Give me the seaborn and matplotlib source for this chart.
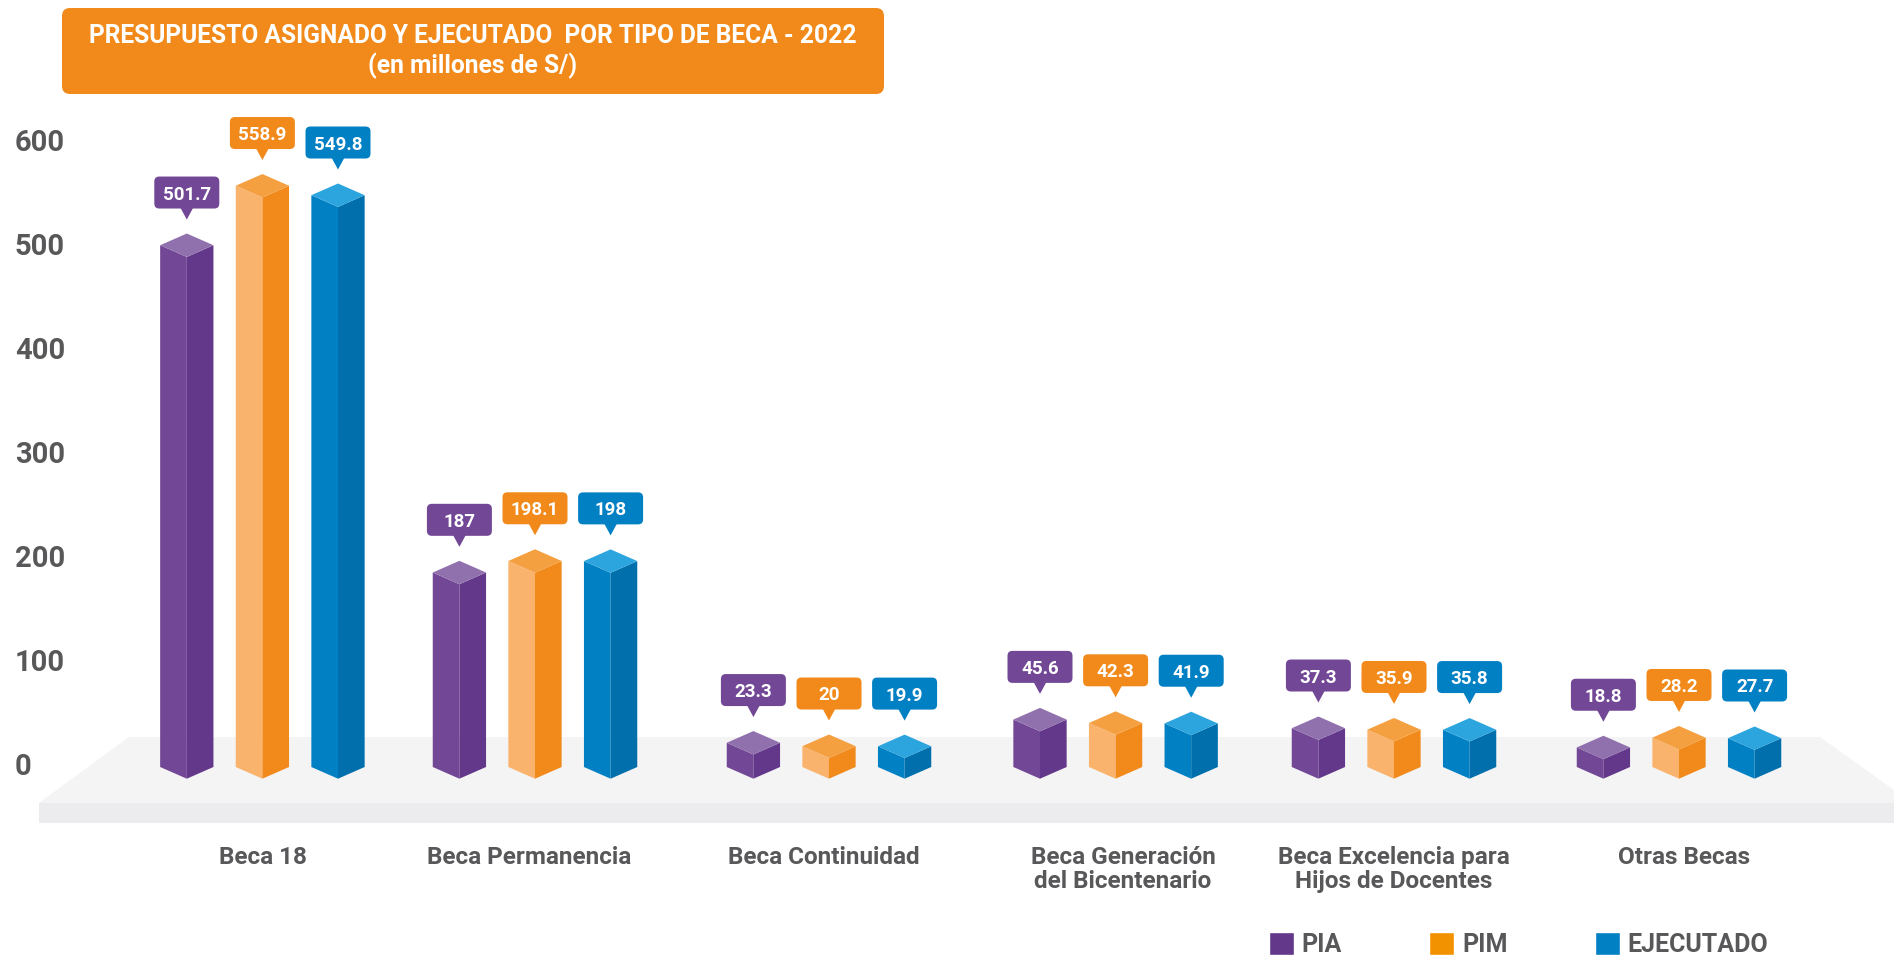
import numpy as np
import pandas as pd
import matplotlib
matplotlib.use('Agg')
import matplotlib.pyplot as plt
from matplotlib.patches import Polygon, FancyBboxPatch
from matplotlib.transforms import IdentityTransform, ScaledTranslation
import seaborn as sns

# data
becas = ['Beca 18', 'Beca Permanencia', 'Beca Continuidad',
         'Beca Generación\ndel Bicentenario', 'Beca Excelencia para\nHijos de Docentes', 'Otras Becas']
pia = [501.7, 187, 23.3, 45.6, 37.3, 18.8]
pim = [558.9, 198.1, 20, 42.3, 35.9, 28.2]
ejecutado = [549.8, 198, 19.9, 41.9, 35.8, 27.7]
series = ['PIA', 'PIM', 'EJECUTADO']
y_ticks = [0, 100, 200, 300, 400, 500, 600]

# face colours: left, right, top
faces = {'PIA': ('#724795', '#63388B', '#9071AE'),
         'PIM': ('#F9B36C', '#F28A1B', '#F5A040'),
         'EJECUTADO': ('#0180C4', '#006FAC', '#2CA5DF')}
palette = {'PIA': '#63388B', 'PIM': '#F39200', 'EJECUTADO': '#0180C4'}
callout = {'PIA': '#724795', 'PIM': '#F28A1B', 'EJECUTADO': '#0180C4'}
grey = '#58585A'

df = pd.DataFrame({'beca': becas * 3,
                   'serie': np.repeat(series, len(becas)),
                   'valor': pia + pim + ejecutado})

W, H = 1894, 958
sns.set_style('white')
plt.rcParams['font.family'] = ['Roboto', 'DejaVu Sans']
plt.rcParams['font.weight'] = 'bold'

fig = plt.figure(figsize=(W / 100, H / 100), dpi=100)
ax_bottom_px = 825
ax = fig.add_axes([0, (H - ax_bottom_px) / H, 1, ax_bottom_px / H])
ax.patch.set_visible(False)

sns.barplot(data=df, x='beca', y='valor', hue='serie', order=becas, hue_order=series,
            palette=palette, saturation=1, width=0.8, gap=0.295, errorbar=None, ax=ax)

# axis scale: 283.5 px per group, 1.04 px per unit, zero at y=767 px
group_px = 283.5
unit_px = 1.04
zero_px = 767
first_px = 263.7
ax.set_xlim(-first_px / group_px, (W - first_px) / group_px)
ax.set_ylim((zero_px - ax_bottom_px) / unit_px, zero_px / unit_px)

# the groups are not evenly spaced in the reference
bar_nudge = [-1.3, -12.2, -1.7, 1.4, -3.7, -2.2]
label_nudge = [-0.7, -18.2, -6.7, 8.8, -3.7, 2.8]


def fig_xy(x, y):
    return (x / W, 1 - y / H)


# platform
ax.add_patch(Polygon([fig_xy(129, 737), fig_xy(1820, 737), fig_xy(1894, 790),
                      fig_xy(1894, 803), fig_xy(39, 803)],
                     closed=True, fc='#F4F4F5', ec='none', transform=fig.transFigure,
                     zorder=0.5, clip_on=False))
ax.add_patch(Polygon([fig_xy(39, 803), fig_xy(1894, 803), fig_xy(1894, 823), fig_xy(39, 823)],
                     closed=True, fc='#ECECEE', ec='none', transform=fig.transFigure,
                     zorder=0.5, clip_on=False))

# turn each seaborn bar into three faces + callout
depth = 11.7 / unit_px
to_px = IdentityTransform()
for cont, serie in zip(ax.containers, series):
    left_c, right_c, top_c = faces[serie]
    for i, bar in enumerate(cont):
        bar.set_visible(False)
        shift = bar_nudge[i] / group_px
        x0 = bar.get_x() + shift
        x1 = x0 + bar.get_width()
        xc = (x0 + x1) / 2
        v = bar.get_height()
        ax.add_patch(Polygon([(x0, v), (xc, v - depth), (xc, -depth), (x0, 0)], fc=left_c, ec='none', zorder=3))
        ax.add_patch(Polygon([(x1, v), (xc, v - depth), (xc, -depth), (x1, 0)], fc=right_c, ec='none', zorder=3))
        ax.add_patch(Polygon([(x0, v), (xc, v + depth), (x1, v), (xc, v - depth)], fc=top_c, ec='none', zorder=3))

        px, py = ax.transData.transform((xc, v + depth))
        tip = py + 14
        ax.add_patch(Polygon([(px, tip), (px - 6.5, tip + 12), (px + 6.5, tip + 12)], fc=callout[serie],
                             ec='none', transform=to_px, zorder=5, clip_on=False))
        ax.add_patch(FancyBboxPatch((px - 27.5, tip + 16), 55, 22, boxstyle='round,pad=5,rounding_size=5',
                                    fc=callout[serie], ec='none', transform=to_px, zorder=5, clip_on=False))
        ax.text(px, tip + 27, f'{v:g}', color='white', fontsize=13.5, ha='center', va='center_baseline',
                transform=to_px, zorder=6)

# axes
sns.despine(ax=ax, left=True, bottom=True)
ax.set_xlabel('')
ax.set_ylabel('')
ax.set_yticks(y_ticks)
ax.set_xticks([i + n / group_px for i, n in enumerate(label_nudge)])
ax.set_xticklabels(becas, linespacing=1.08)
ax.tick_params(axis='y', length=0, pad=-10.8, labelsize=21, labelcolor=grey)
ax.tick_params(axis='x', length=0, pad=15, labelsize=17.5, labelcolor=grey)
up = ScaledTranslation(0, 2.4 / 72, fig.dpi_scale_trans)  # 600 etc sit a bit higher than the zero line
for t in ax.get_yticklabels():
    t.set_ha('left')
    t.set_transform(t.get_transform() + up)

# title box
ax.add_patch(FancyBboxPatch((70, H - 86), 806, 70, boxstyle='round,pad=8,rounding_size=8', fc='#F28A1B',
                            ec='none', transform=to_px, zorder=5, clip_on=False))
fig.text(473 / W, 1 - 36 / H, 'PRESUPUESTO ASIGNADO Y EJECUTADO  POR TIPO DE BECA - 2022', color='white',
         fontsize=17.75, ha='center', va='center', zorder=7)
fig.text(473 / W, 1 - 66 / H, '(en millones de S/)', color='white', fontsize=17.75, ha='center', va='center', zorder=7)

# legend
sns.move_legend(ax, 'lower left', bbox_to_anchor=(1269 / W, 1 / H), bbox_transform=fig.transFigure,
                ncol=3, frameon=False, title='', prop={'size': 18, 'weight': 'bold'},
                handlelength=1, handleheight=1, handletextpad=0.3, columnspacing=3.5,
                borderpad=0, borderaxespad=0)
for t in ax.get_legend().get_texts():
    t.set_color(grey)

fig.savefig('out.png', dpi=100)
